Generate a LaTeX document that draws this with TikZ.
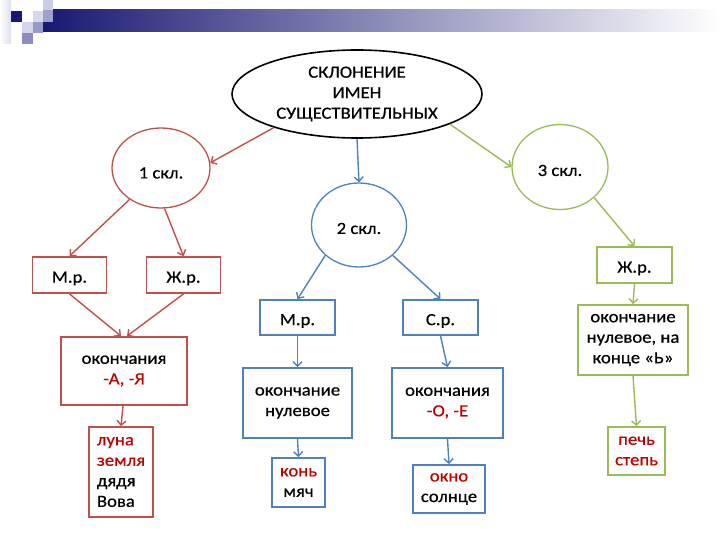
\documentclass[tikz,border=0pt]{standalone}
\usepackage{fontspec}
\setmainfont{Carlito}[FakeStretch=1.1, FakeBold=0.6]
\usetikzlibrary{shapes.geometric,arrows.meta}
\definecolor{cred}{HTML}{C0504D}
\definecolor{cblue}{HTML}{4F81BD}
\definecolor{cgreen}{HTML}{9BBB59}
\definecolor{tred}{HTML}{C00000}
\definecolor{navy}{RGB}{25,25,115}
\definecolor{pale}{RGB}{222,222,238}
\definecolor{sqa}{RGB}{216,216,236}
\definecolor{sqb}{RGB}{204,204,230}
\definecolor{sqc}{RGB}{160,160,204}
\definecolor{sqd}{RGB}{212,212,234}
\definecolor{sqe}{RGB}{154,154,202}
\definecolor{sqf}{RGB}{140,140,192}
\begin{document}
\begin{tikzpicture}[x=1pt,y=-1pt,
  every node/.style={font=\fontsize{17}{20.5}\selectfont, inner sep=0pt, align=center,
    execute at begin node={\rule{0pt}{18pt}}},
  sz/.style 2 args={minimum width=#1pt, minimum height=#2pt},
  rbox/.style={draw=cred, line width=1.8pt, rectangle},
  bbox/.style={draw=cblue, line width=1.8pt, rectangle},
  gbox/.style={draw=cgreen, line width=1.8pt, rectangle},
  circ/.style={ellipse, line width=1.3pt},
  arr/.style={line width=1.4pt, -{Straight Barb[length=4.5pt,width=9pt]}}
]
\useasboundingbox (0,0) rectangle (720,540);
% header decoration
\shade[left color=white, right color=pale] (0,0) rectangle (11,44);
\shade[left color=navy, right color=white] (43,10) rectangle (720,32);
\fill[navy] (11,11) rectangle (22,22);
\fill[sqa] (33,11) rectangle (43,22);
\fill[sqb] (43,0) rectangle (53,10);
\fill[sqc] (43,10) rectangle (53,22);
\fill[sqd] (22,22) rectangle (33,33);
\fill[sqe] (33,22) rectangle (43,33);
\fill[sqf] (22,33) rectangle (33,44);

% nodes
\node[draw=black, ellipse, line width=1.6pt, sz={250}{88}] (root) at (357,94)
  {СКЛОНЕНИЕ\\ИМЕН\\СУЩЕСТВИТЕЛЬНЫХ};
\node[circ, draw=cred, sz={98}{80}] (c1) at (161,168) {\raisebox{-3pt}{1 скл.}};
\node[circ, draw=cblue, sz={95}{84}] (c2) at (359,225) {2 скл.};
\node[circ, draw=cgreen, sz={96}{85}] (c3) at (560,167) {3 скл.};

\node[rbox, sz={74}{36}] (m1) at (69.5,275) {М.р.};
\node[rbox, sz={74}{36}] (f1) at (183.5,275) {Ж.р.};
\node[rbox, sz={126}{68}] (e1) at (124,371) {окончания\\\textcolor{tred}{-А, -Я}};
\node[rbox, sz={64}{90}, align=left] (x1) at (121,472)
  {\textcolor{tred}{луна}\\\textcolor{tred}{земля}\\дядя\\Вова};

\node[bbox, sz={75}{35}] (m2) at (297.5,317.5) {М.р.};
\node[bbox, sz={75}{35}] (s2) at (440.5,317.5) {С.р.};
\node[bbox, sz={109}{70}] (e2a) at (297.5,403) {окончание\\нулевое};
\node[bbox, sz={111}{70}] (e2b) at (447.5,403) {окончания\\\textcolor{tred}{-О, -Е}};
\node[bbox, sz={53}{49}] (x2a) at (298.5,482.5) {\textcolor{tred}{конь}\\мяч};
\node[bbox, sz={72}{48}] (x2b) at (449,489) {\textcolor{tred}{окно}\\солнце};

\node[gbox, sz={75}{36}] (f3) at (634.5,265) {Ж.р.};
\node[gbox, sz={110}{70}] (e3) at (633,340) {окончание\\нулевое, на\\конце «Ь»};
\node[gbox, sz={57}{48}] (x3) at (636.5,451) {\textcolor{tred}{печь}\\\textcolor{tred}{степь}};

% connectors
\draw[arr, cred] (root.202) -- (c1.6);
\draw[arr, cblue] (root.south) -- (c2.north);
\draw[arr, cgreen] (root.342) -- (c3.west);

\draw[arr, cred] (c1.225) -- (m1.north);
\draw[arr, cred] (c1.275) -- (f1.north);
\draw[arr, cred] (m1.south) -- ([xshift=-3pt]e1.north);
\draw[arr, cred] (f1.south) -- ([xshift=3pt]e1.north);
\draw[arr, cred] ([xshift=-1pt]e1.south) -- (x1.north);

\draw[arr, cblue] (c2.222) -- (m2.north);
\draw[arr, cblue] (c2.318) -- (s2.north);
\draw[arr, cblue] (m2.south) -- (e2a.north);
\draw[arr, cblue] (s2.south) -- (e2b.north);
\draw[arr, cblue] (e2a.south) -- (x2a.north);
\draw[arr, cblue] (e2b.south) -- (x2b.north);

\draw[arr, cgreen] (c3.318) -- (f3.north);
\draw[arr, cgreen] (f3.south) -- (e3.north);
\draw[arr, cgreen] (e3.south) -- (x3.north);
\end{tikzpicture}
\end{document}
